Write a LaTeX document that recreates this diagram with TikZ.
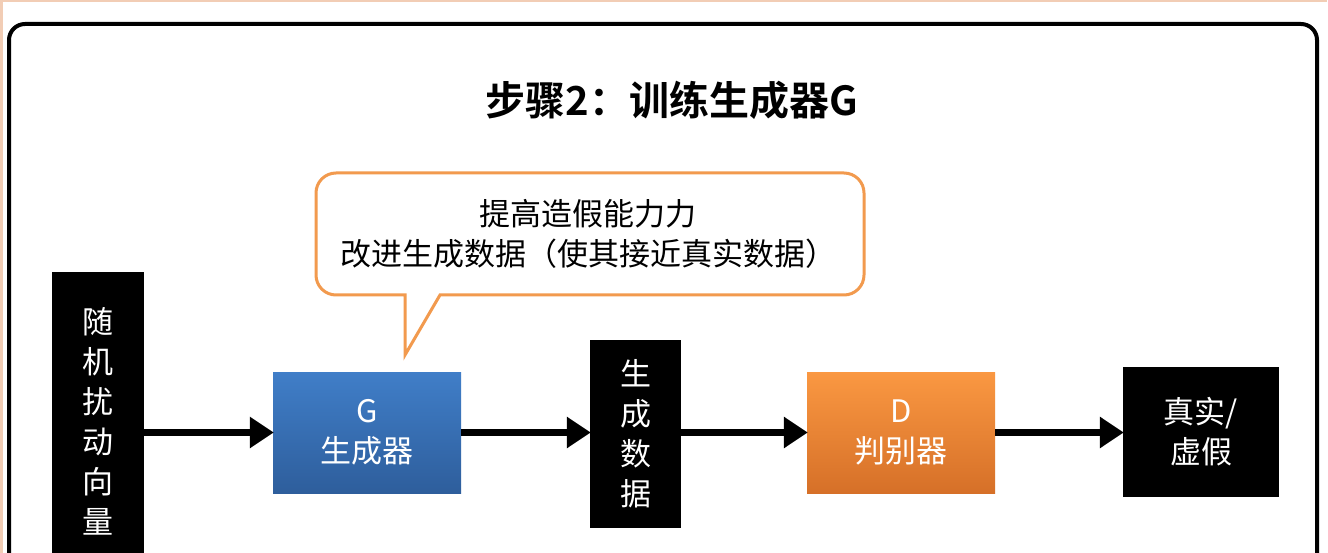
\documentclass[tikz,border=0pt]{standalone}
\usepackage{fontspec}
\setmainfont{Noto Sans CJK SC}[BoldFont={* Bold}]
\usetikzlibrary{arrows.meta}
\definecolor{peach}{HTML}{F2CDB5}
\definecolor{calloutc}{HTML}{F29A4E}
\begin{document}
\begin{tikzpicture}[x=1pt,y=-1pt,
  blk/.style={fill=black,text=white,inner sep=0pt,font=\fontsize{31}{40}\selectfont,align=center},
  proc/.style={inner sep=0pt,text=white,font=\fontsize{31}{40}\selectfont,align=center},
  flow/.style={line width=7pt,-{Triangle[length=24pt,width=30pt]},shorten >=-1pt}]
\useasboundingbox (0,0) rectangle (1328,553);
\fill[white] (0,0) rectangle (1328,553);
\draw[peach,line width=3pt] (1,560) -- (1,1) -- (1327,1);
\draw[line width=4pt,rounded corners=16] (9,600) -- (9,24) -- (1317,24) -- (1317,600);
\node[font=\bfseries\fontsize{40}{48}\selectfont] (title) at (672,100) {步骤2：训练生成器G};
% callout
\draw[calloutc,line width=3pt,fill=white] (405,295) [rounded corners=20]-- (316,295) -- (316,173) -- (864,173) -- (864,295) [sharp corners]-- (440,295) -- (405,355) -- cycle;
\node[font=\fontsize{31}{40}\selectfont,align=center] (ctext) at (588,234) {提高造假能力力\\改进生成数据（使其接近真实数据）};
% boxes
\node[fill=black,minimum width=92pt,minimum height=290pt,inner sep=0pt] (rv) at (98,417) {};
\node[blk] (rvt) at (98,421) {随\\机\\扰\\动\\向\\量};
\shade[top color={rgb,255:red,64;green,126;blue,200},bottom color={rgb,255:red,46;green,94;blue,156}] (273,372) rectangle (461,493);
\node[proc,minimum width=188pt,minimum height=121pt] (G) at (367,432.5) {G\\生成器};
\node[blk,minimum width=91pt,minimum height=188pt] (gd) at (635.5,434) {生\\成\\数\\据};
\shade[top color={rgb,255:red,250;green,152;blue,66},bottom color={rgb,255:red,214;green,112;blue,40}] (807,372) rectangle (995,493);
\node[proc,minimum width=188pt,minimum height=121pt] (D) at (901,432.5) {D\\判别器};
\node[blk,minimum width=156pt,minimum height=130pt] (tf) at (1201,432) {真实/\\虚假};
\draw[flow] (rv.east|-G.west) -- (G.west);
\draw[flow] (G.east) -- (gd.west|-G.east);
\draw[flow] (gd.east|-G.east) -- (D.west);
\draw[flow] (D.east) -- (tf.west|-D.east);
\end{tikzpicture}
\end{document}
